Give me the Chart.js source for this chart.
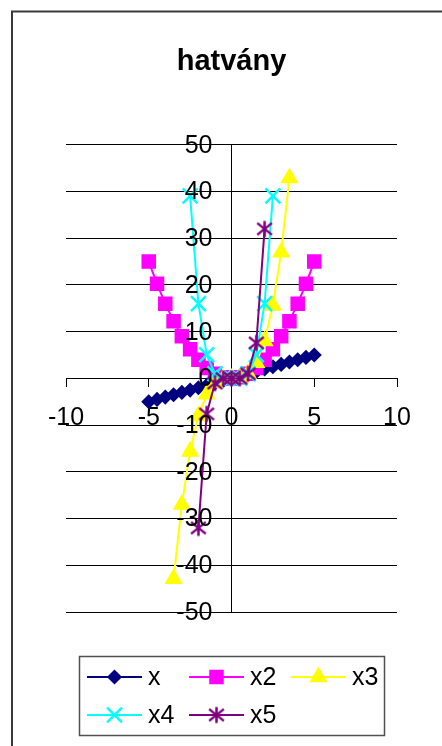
<!DOCTYPE html>
<html>
<head>
<meta charset="utf-8">
<title>hatvány</title>
<style>
  html, body { margin: 0; padding: 0; background: #fff; overflow: hidden; }
  #wrap { width: 442px; height: 746px; position: relative; }
  canvas { display: block; }
</style>
<script src="https://cdn.jsdelivr.net/npm/chart.js@4.4.1/dist/chart.umd.min.js"></script>
</head>
<body>
<div id="wrap"><canvas id="chart" width="442" height="746"></canvas></div>
<script>
// x values of the table (step 0.5)
const xValues = [-5, -4.5, -4, -3.5, -3, -2.5, -2, -1.5, -1, -0.5, 0, 0.5, 1, 1.5, 2, 2.5, 3, 3.5, 4, 4.5, 5];

// powers of x; empty cells are left out of the table
const seriesX  = [-5, -4.5, -4, -3.5, -3, -2.5, -2, -1.5, -1, -0.5, 0, 0.5, 1, 1.5, 2, 2.5, 3, 3.5, 4, 4.5, 5];
const seriesX2 = [25, 20.25, 16, 12.25, 9, 6.25, 4, 2.25, 1, 0.25, 0, 0.25, 1, 2.25, 4, 6.25, 9, 12.25, 16, 20.25, 25];
const seriesX3 = [null, null, null, -42.875, -27, -15.625, -8, -3.375, -1, -0.125, 0, 0.125, 1, 3.375, 8, 15.625, 27, 42.875, null, null, null];
const seriesX4 = [null, null, null, null, null, 39.0625, 16, 5.0625, 1, 0.0625, 0, 0.0625, 1, 5.0625, 16, 39.0625, null, null, null, null, null];
const seriesX5 = [null, null, null, null, null, null, -32, -7.59375, -1, -0.03125, 0, 0.03125, 1, 7.59375, 32, null, null, null, null, null, null];

const seriesNames = ['x', 'x2', 'x3', 'x4', 'x5'];
const seriesValues = [seriesX, seriesX2, seriesX3, seriesX4, seriesX5];

// axis tick settings
const xTickStep = 5;
const yTickStep = 10;
const xRange = [-10, 10];
const yRange = [-50, 50];

const FONT = "'Liberation Sans', Arial, Helvetica, sans-serif";

// six-armed asterisk marker (diagonal cross plus a vertical bar)
function asteriskMarker(color, half, lineWidth) {
  const size = Math.ceil(half * 2 + lineWidth + 2);
  const c = document.createElement('canvas');
  c.width = size;
  c.height = size;
  const g = c.getContext('2d');
  const m = size / 2;
  const d = half * 0.92;
  g.strokeStyle = color;
  g.lineWidth = lineWidth;
  g.lineCap = 'butt';
  g.beginPath();
  g.moveTo(m - d, m - d * 0.8); g.lineTo(m + d, m + d * 0.8);
  g.moveTo(m + d, m - d * 0.8); g.lineTo(m - d, m + d * 0.8);
  g.moveTo(m, m - half); g.lineTo(m, m + half);
  g.stroke();
  return c;
}

const styles = [
  { color: '#000080', pointStyle: 'rectRot', radius: 6.5, pointBorder: 1.5 },
  { color: '#FF00FF', pointStyle: 'rect', radius: 9.2, pointBorder: 1.5 },
  { color: '#FFFF00', pointStyle: 'triangle', radius: 9, pointBorder: 1.5 },
  { color: '#00FFFF', pointStyle: 'crossRot', radius: 10.5, pointBorder: 2.5 },
  { color: '#800080', pointStyle: asteriskMarker('#800080', 8, 2.5), radius: 8, pointBorder: 2.5 }
];

function toPoints(values) {
  const pts = [];
  values.forEach((v, i) => { if (v !== null) pts.push({ x: xValues[i], y: v }); });
  return pts;
}

const datasets = seriesValues.map((vals, i) => ({
  label: seriesNames[i],
  data: toPoints(vals),
  showLine: true,
  borderColor: styles[i].color,
  backgroundColor: styles[i].color,
  borderWidth: 2,
  pointStyle: styles[i].pointStyle,
  pointRadius: styles[i].radius,
  pointHoverRadius: styles[i].radius,
  pointBorderWidth: styles[i].pointBorder,
  pointBorderColor: styles[i].color,
  pointBackgroundColor: styles[i].color,
  tension: 0,
  order: seriesNames.length - i,
  clip: false
}));

// white page with the chart frame
const framePlugin = {
  id: 'frame',
  beforeDraw(chart) {
    const ctx = chart.ctx;
    ctx.save();
    ctx.fillStyle = '#fff';
    ctx.fillRect(0, 0, chart.width, chart.height);
    ctx.strokeStyle = '#3a3a3a';
    ctx.lineWidth = 2;
    ctx.strokeRect(12, 11.5, 1000, 1000);
    ctx.restore();
  }
};

// value labels of the vertical axis, left of the axis line and above the series
const yLabelPlugin = {
  id: 'yLabels',
  afterDatasetsDraw(chart) {
    const ctx = chart.ctx;
    const ys = chart.scales.y;
    const xs = chart.scales.x;
    const xRight = xs.getPixelForValue(0) - 19;
    ctx.save();
    ctx.fillStyle = '#000';
    ctx.font = '25px ' + FONT;
    ctx.textAlign = 'right';
    ctx.textBaseline = 'middle';
    ys.ticks.forEach(t => {
      ctx.fillText(t.label, xRight, ys.getPixelForValue(t.value) + 1);
    });
    ctx.restore();
  }
};

// legend: line sample with marker, two rows in a framed box
const lineLegendPlugin = {
  id: 'lineLegend',
  afterDraw(chart) {
    const ctx = chart.ctx;
    const box = { x: 79.5, y: 656.5, w: 305, h: 79 };
    const cols = [87, 189, 291];
    const rows = [677, 715];
    const sampleLen = 55;
    ctx.save();
    ctx.strokeStyle = '#505050';
    ctx.lineWidth = 1.5;
    ctx.strokeRect(box.x, box.y, box.w, box.h);
    chart.data.datasets.forEach((ds, i) => {
      const x0 = cols[i % 3];
      const y = rows[Math.floor(i / 3)];
      ctx.strokeStyle = ds.borderColor;
      ctx.lineWidth = ds.borderWidth;
      ctx.beginPath();
      ctx.moveTo(x0, y);
      ctx.lineTo(x0 + sampleLen, y);
      ctx.stroke();
      ctx.fillStyle = ds.pointBackgroundColor;
      ctx.strokeStyle = ds.pointBorderColor;
      ctx.lineWidth = ds.pointBorderWidth;
      Chart.helpers.drawPoint(ctx, {
        pointStyle: ds.pointStyle,
        radius: ds.pointRadius,
        rotation: 0,
        borderWidth: ds.pointBorderWidth
      }, x0 + sampleLen / 2, y);
      ctx.fillStyle = '#000';
      ctx.font = '25px ' + FONT;
      ctx.textBaseline = 'middle';
      ctx.textAlign = 'left';
      ctx.fillText(ds.label, x0 + sampleLen + 6, y + 1);
    });
    ctx.restore();
  }
};

new Chart(document.getElementById('chart'), {
  type: 'scatter',
  data: { datasets },
  plugins: [framePlugin, yLabelPlugin, lineLegendPlugin],
  options: {
    responsive: false,
    animation: false,
    devicePixelRatio: 1,
    layout: { padding: { left: 66, right: 45, top: 0, bottom: 134 } },
    plugins: {
      legend: { display: false },
      tooltip: { enabled: false },
      title: {
        display: true,
        text: 'hatvány',
        color: '#000',
        font: { family: FONT, size: 29, weight: 'bold' },
        padding: { top: 44.5, bottom: 65.5 }
      }
    },
    scales: {
      x: {
        type: 'linear',
        min: xRange[0],
        max: xRange[1],
        position: { y: 0 },
        ticks: {
          stepSize: xTickStep,
          color: '#000',
          font: { family: FONT, size: 25 },
          padding: 17,
          maxRotation: 0,
          autoSkip: false
        },
        grid: { drawOnChartArea: false, drawTicks: true, tickLength: 8, color: '#000', lineWidth: 1 },
        border: { color: '#000', width: 1 }
      },
      y: {
        type: 'linear',
        min: yRange[0],
        max: yRange[1],
        position: { x: 0 },
        ticks: {
          stepSize: yTickStep,
          display: false,
          autoSkip: false
        },
        grid: { drawOnChartArea: true, drawTicks: true, tickLength: 8, color: '#000', lineWidth: 1 },
        border: { color: '#000', width: 1 }
      }
    }
  }
});
</script>
</body>
</html>
